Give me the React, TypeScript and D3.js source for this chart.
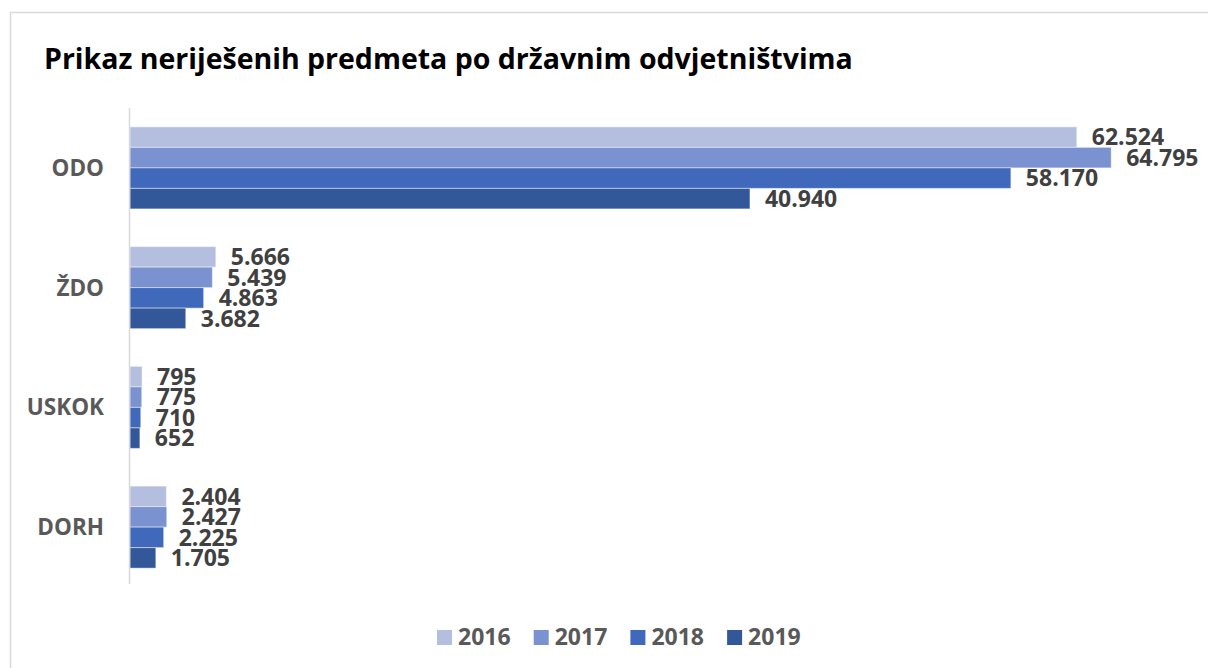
import { useEffect, useRef } from "react";
import * as d3 from "d3";

const categories = ["ODO", "ŽDO", "USKOK", "DORH"];
const years = ["2016", "2017", "2018", "2019"];
const values2016 = [62524, 5666, 795, 2404];
const values2017 = [64795, 5439, 775, 2427];
const values2018 = [58170, 4863, 710, 2225];
const values2019 = [40940, 3682, 652, 1705];
const colors = ["#b4bfe0", "#7b92d0", "#4069bb", "#32589a"];

const W = 1208;
const H = 668;
const FONT = "'Open Sans', 'Liberation Sans', sans-serif";

const fmt = (v: number) => d3.format(",")(v).replace(/,/g, ".");

export default function App() {
  const svgRef = useRef<SVGSVGElement>(null);

  useEffect(() => {
    const el = svgRef.current;
    if (!el) return;
    d3.select(el).selectAll("*").remove();
    const svg = d3.select(el);

    const series = [values2016, values2017, values2018, values2019];

    // chart border
    svg
      .append("rect")
      .attr("x", 10.5)
      .attr("y", 12.5)
      .attr("width", W + 20)
      .attr("height", H + 20)
      .attr("fill", "#fff")
      .attr("stroke", "#d9d9d9")
      .attr("stroke-width", 1.5);

    svg
      .append("text")
      .attr("x", 44)
      .attr("y", 69)
      .attr("font-family", FONT)
      .attr("font-weight", 700)
      .attr("font-size", 28.5)
      .attr("fill", "#000")
      .text("Prikaz neriješenih predmeta po državnim odvjetništvima");

    const x = d3.scaleLinear().domain([0, 70000]).range([130, 1190]);
    const y = d3
      .scaleBand<string>()
      .domain(categories)
      .range([108, 587])
      .paddingInner(0.315)
      .paddingOuter(0.1575);
    const ySub = d3.scaleBand<string>().domain(years).range([0, y.bandwidth()]);

    const g = svg.append("g");
    categories.forEach((cat, ci) => {
      years.forEach((yr, si) => {
        const v = series[si][ci];
        const y0 = (y(cat) ?? 0) + (ySub(yr) ?? 0);
        g.append("rect")
          .attr("x", x(0))
          .attr("y", y0)
          .attr("width", x(v) - x(0))
          .attr("height", ySub.bandwidth())
          .attr("fill", colors[si])
          .attr("stroke", "rgba(255,255,255,0.45)")
          .attr("stroke-width", 1);
        g.append("text")
          .attr("x", x(v) + 15)
          .attr("y", y0 + ySub.bandwidth() / 2)
          .attr("dy", "0.36em")
          .attr("font-family", FONT)
          .attr("font-weight", 700)
          .attr("font-size", 23)
          .attr("fill", "#404040")
          .text(fmt(v));
      });
      svg
        .append("text")
        .attr("x", 104)
        .attr("y", (y(cat) ?? 0) + y.bandwidth() / 2)
        .attr("dy", "0.36em")
        .attr("text-anchor", "end")
        .attr("font-family", FONT)
        .attr("font-weight", 700)
        .attr("font-size", 22.5)
        .attr("fill", "#595959")
        .text(cat);
    });

    // category axis line
    svg
      .append("line")
      .attr("x1", x(0) - 0.5)
      .attr("x2", x(0) - 0.5)
      .attr("y1", 108)
      .attr("y2", 584)
      .attr("stroke", "#d9d9d9")
      .attr("stroke-width", 1.5);

    // legend
    const legend = svg.append("g");
    years.forEach((yr, i) => {
      const lx = 437 + i * 96.7;
      legend
        .append("rect")
        .attr("x", lx)
        .attr("y", 630)
        .attr("width", 15)
        .attr("height", 15)
        .attr("fill", colors[i]);
      legend
        .append("text")
        .attr("x", lx + 21)
        .attr("y", 645)
        .attr("font-family", FONT)
        .attr("font-weight", 700)
        .attr("font-size", 23)
        .attr("fill", "#595959")
        .text(yr);
    });
  }, []);

  return (
    <svg
      ref={svgRef}
      width={W}
      height={H}
      viewBox={`0 0 ${W} ${H}`}
      style={{ position: "absolute", left: 0, top: 0, display: "block" }}
    />
  );
}
